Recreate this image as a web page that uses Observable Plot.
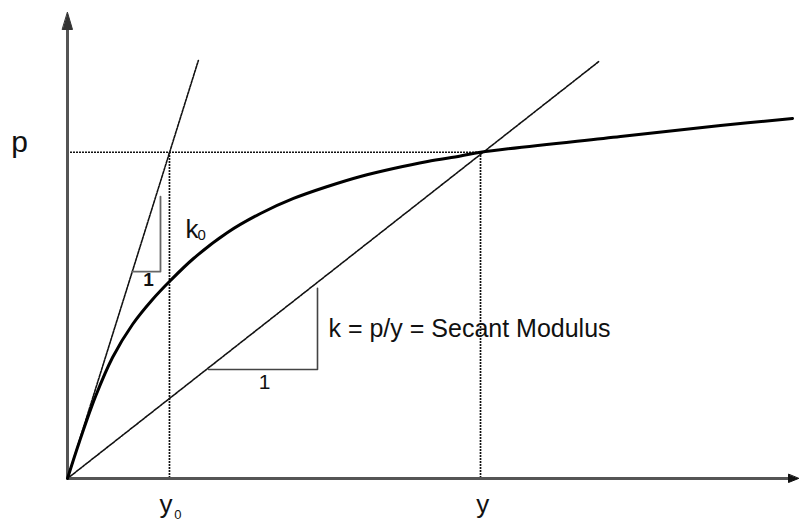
<!DOCTYPE html>
<html><head><meta charset="utf-8">
<script src="https://cdn.jsdelivr.net/npm/d3@7"></script>
<script src="https://cdn.jsdelivr.net/npm/@observablehq/plot@0.6"></script>
<style>html,body{margin:0;padding:0;background:#fff;}</style>
</head><body><div id="chart"></div>
<script>
// p-y curve (deflection y, soil reaction p)
const curveY = [0, 0.164, 0.383, 0.616, 0.889, 1.163, 1.395, 1.724, 2.189, 2.640, 3.092, 3.557, 4.008, 4.460, 4.925, 5.376, 5.65, 7.565, 8.933, 9.918];
const curveP = [0, 0.794, 1.760, 2.597, 3.305, 3.841, 4.227, 4.721, 5.279, 5.687, 6.009, 6.266, 6.481, 6.652, 6.803, 6.920, 7.0, 7.339, 7.575, 7.725];

// reference levels
const y0Value = 1.395;   // initial-tangent deflection at p
const yValue = 5.65;     // secant deflection
const pValue = 7.0;      // load level p

// tangent (k0) and secant (k) lines
const tangentY = [0, 1.79];
const tangentP = [0, 8.97];
const secantY = [0, 7.27];
const secantP = [0, 8.95];

// slope triangles
const tri1Y = [0.89, 1.272, 1.272];
const tri1P = [4.44, 4.44, 6.05];
const tri2Y = [1.93, 3.42, 3.42];
const tri2P = [2.34, 2.34, 4.08];

// axis extent
const yMax = 10, pMax = 10;

// labels
const labelText = ["p", "y", "y", "0", "k", "0", "1", "1", "k = p/y = Secant Modulus"];
const labelY    = [-0.657, 5.68, 1.347, 1.46, 1.614, 1.78, 1.108, 2.695, 3.57];
const labelP    = [7.0, -0.75, -0.74, -0.86, 5.17, 5.11, 4.14, 1.93, 3.03];
const labelSize = [30, 26, 26, 13, 26, 15, 19, 21, 25];
const labelWeight = ["normal","normal","normal","normal","normal","normal","bold","normal","normal"];
const labelAnchor = ["middle","middle","middle","start","start","start","middle","middle","start"];

const toRows = (xs, ps) => xs.map((x, i) => ({x, p: ps[i]}));
const curve = toRows(curveY, curveP);
const tangent = toRows(tangentY, tangentP);
const secant = toRows(secantY, secantP);
const tri1 = toRows(tri1Y, tri1P);
const tri2 = toRows(tri2Y, tri2P);
const labels = labelText.map((t, i) => ({t, x: labelY[i], p: labelP[i], s: labelSize[i], w: labelWeight[i], a: labelAnchor[i]}));

const arrowHead = (w) => ({draw(ctx, l) { ctx.moveTo(0, -l); ctx.lineTo(w, 0); ctx.lineTo(-w, 0); ctx.closePath(); }});

const font = "Liberation Sans, Arial, Helvetica, sans-serif";
const textMarks = labels.map(d => Plot.text([d], {
  x: "x", y: "p", text: "t", fontSize: d.s, fontWeight: d.w, textAnchor: d.a,
  lineAnchor: "bottom", fill: "#111", fontFamily: font
}));

const chart = Plot.plot({
  width: 799, height: 521,
  marginLeft: 67, marginRight: 1, marginTop: 12, marginBottom: 43,
  x: {domain: [0, yMax], axis: null},
  y: {domain: [0, pMax], axis: null},
  style: {background: "#fff"},
  marks: [
    // dotted reference lines
    Plot.ruleY([pValue], {x1: 0, x2: yValue, stroke: "#111", strokeWidth: 1.5, strokeDasharray: "2,1"}),
    Plot.ruleX([y0Value, yValue], {y1: 0, y2: pValue, stroke: "#111", strokeWidth: 1.7, strokeDasharray: "2,1"}),
    // tangent & secant
    Plot.line(tangent, {x: "x", y: "p", stroke: "#111", strokeWidth: 1.6, strokeDasharray: "2.5,1.3"}),
    Plot.line(secant, {x: "x", y: "p", stroke: "#111", strokeWidth: 1.6, strokeDasharray: "2.5,1.3"}),
    // triangles
    Plot.line(tri1, {x: "x", y: "p", stroke: "#666", strokeWidth: 1.8}),
    Plot.line(tri2, {x: "x", y: "p", stroke: "#444", strokeWidth: 1.6}),
    // axes
    Plot.ruleX([0], {y1: 0, y2: pMax - 0.2, stroke: "#555", strokeWidth: 3}),
    Plot.ruleY([0], {x1: 0, x2: yMax - 0.05, stroke: "#555", strokeWidth: 3}),
    Plot.vector([{x: 0, p: pMax}], {x: "x", y: "p", length: 17, rotate: 0, anchor: "end", shape: arrowHead(5), fill: "#333", stroke: "#333", strokeWidth: 1}),
    Plot.vector([{x: yMax, p: 0}], {x: "x", y: "p", length: 10, rotate: 90, anchor: "end", shape: arrowHead(4), fill: "#111", stroke: "#111", strokeWidth: 1}),
    // p-y curve
    Plot.line(curve, {x: "x", y: "p", curve: "catmull-rom", stroke: "#000", strokeWidth: 3}),
    ...textMarks
  ]
});
document.getElementById("chart").appendChild(chart);
</script>
</body></html>
